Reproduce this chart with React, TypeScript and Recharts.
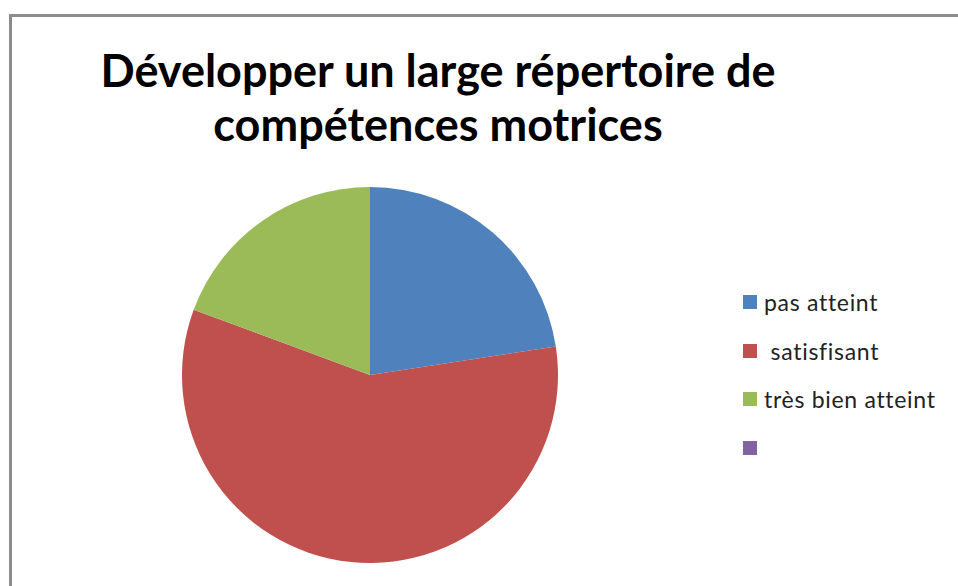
import { PieChart, Pie, Cell, Legend } from 'recharts';

const categories = ['pas atteint', ' satisfisant', 'très bien atteint', ''];
const counts = [7, 18, 6, 0];
const colors = ['#4F81BD', '#C0504D', '#9BBB59', '#8064A2'];
const titleLines = ['Développer un large répertoire de', 'compétences motrices'];

const data = categories.map((name, i) => ({ name, value: counts[i] }));

function LegendBox() {
  return (
    <div style={{ fontFamily: 'Lato, sans-serif', fontSize: 23, letterSpacing: 0.7, color: '#222' }}>
      {categories.map((c, i) => (
        <div key={i} style={{ display: 'flex', alignItems: 'center', height: 48.5 }}>
          <span style={{ width: 14, height: 14, background: colors[i], display: 'inline-block', flexShrink: 0 }} />
          <span style={{ marginLeft: 7, whiteSpace: 'pre' }}>{c}</span>
        </div>
      ))}
    </div>
  );
}

export default function App() {
  return (
    <div style={{ position: 'absolute', left: 0, top: 0, width: 958, height: 586, overflow: 'hidden', background: '#fff' }}>
      <div
        style={{
          position: 'absolute', left: 9, top: 14, width: 1000, height: 700,
          borderLeft: '3px solid #8c8c8c', borderTop: '3px solid #8c8c8c',
        }}
      />
      <div
        style={{
          position: 'absolute', left: 0, top: 43, width: 876, textAlign: 'center',
          fontFamily: 'Lato, sans-serif', fontWeight: 700, fontSize: 45, lineHeight: '54px', color: '#000',
        }}
      >
        {titleLines.map((t) => <div key={t}>{t}</div>)}
      </div>
      <div style={{ position: 'absolute', left: 0, top: 0 }}>
        <PieChart width={958} height={586} margin={{ top: 0, right: 0, bottom: 0, left: 0 }}>
          <Pie
            data={data}
            dataKey="value"
            nameKey="name"
            cx={370}
            cy={375}
            outerRadius={188}
            startAngle={90}
            endAngle={-270}
            stroke="none"
            isAnimationActive={false}
          >
            {data.map((_, i) => <Cell key={i} fill={colors[i]} />)}
          </Pie>
          <Legend
            content={() => <LegendBox />}
            wrapperStyle={{ position: 'absolute', left: 743, top: 278, width: 215 }}
          />
        </PieChart>
      </div>
    </div>
  );
}
